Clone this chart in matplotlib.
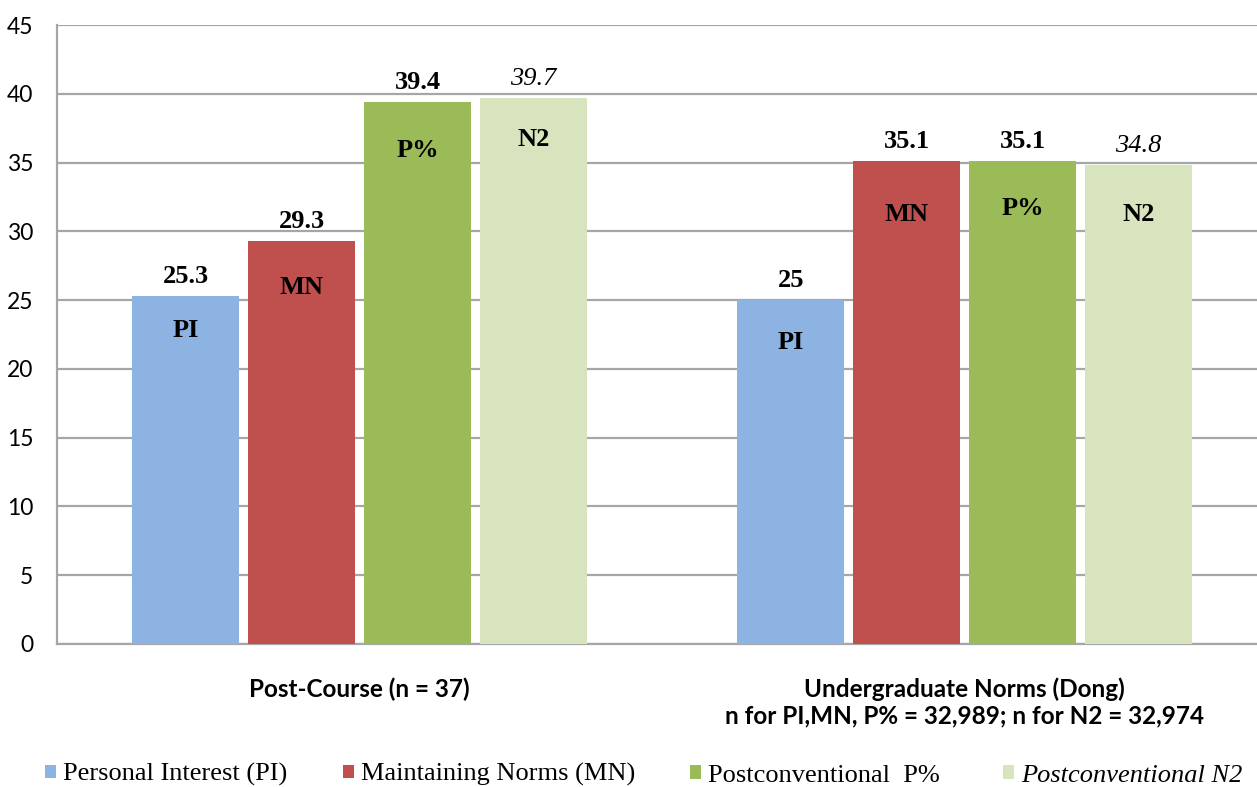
import matplotlib
matplotlib.use("Agg")
import matplotlib.pyplot as plt
from matplotlib.patches import Patch
import numpy as np

# Data
groups = ["Post-Course (n = 37)",
          "Undergraduate Norms (Dong)\nn for PI,MN, P% = 32,989; n for N2 = 32,974"]
series_names = ["Personal Interest (PI)", "Maintaining Norms (MN)",
                "Postconventional  P%", "Postconventional N2"]
short_names = ["PI", "MN", "P%", "N2"]
pi_values = [25.3, 25.0]
mn_values = [29.3, 35.1]
p_values = [39.4, 35.1]
n2_values = [39.7, 34.8]
value_text = [["25.3", "25"], ["29.3", "35.1"], ["39.4", "35.1"], ["39.7", "34.8"]]
y_ticks = [0, 5, 10, 15, 20, 25, 30, 35, 40, 45]

# Styling
colors = ["#8db3e2", "#c0504d", "#9bbb59", "#d7e4bd"]
inner_offsets_px = [[35, 42], [47, 53], [48, 47], [42, 49]]  # text centre below bar top
serif = "Liberation Serif"
sans = "Lato"

fig = plt.figure(figsize=(12.57, 7.87), dpi=100)
ax = fig.add_axes([57 / 1257, 1 - 644 / 787, 1200 / 1257, (644 - 25) / 787])

x = np.arange(len(groups))
step = 0.1915
width = 0.177
all_series = [pi_values, mn_values, p_values, n2_values]

for i, vals in enumerate(all_series):
    xs = x + (i - 1.5) * step
    ax.bar(xs, vals, width=width, color=colors[i], zorder=3, linewidth=0)
    for j, (bx, v) in enumerate(zip(xs, vals)):
        italic = (i == 3)
        ax.annotate(value_text[i][j], (bx, v), xytext=(0, 9.5), textcoords="offset points",
                    ha="center", va="baseline", fontsize=19, family=serif,
                    fontweight="normal" if italic else "bold",
                    fontstyle="italic" if italic else "normal", color="black", zorder=5)
        ax.annotate(short_names[i], (bx, v), xytext=(0, -inner_offsets_px[i][j] * 0.72),
                    textcoords="offset points", ha="center", va="center",
                    fontsize=19, family=serif, fontweight="bold", color="black", zorder=5)

ax.set_ylim(0, 45)
ax.set_xlim(-0.5, 1.5 - 0.017)
ax.set_yticks(y_ticks)
ax.set_yticklabels([str(t) for t in y_ticks], family=sans, fontsize=16.5)
ax.set_xticks(x)
ax.set_xticklabels(groups, family=sans, fontsize=17.5, fontweight="bold", linespacing=1.2)
ax.tick_params(axis="y", length=0, pad=17)
ax.tick_params(axis="x", length=0, pad=24)

ax.grid(axis="y", color="#a6a6a6", linewidth=1.6, zorder=0)
ax.set_axisbelow(True)
for s in ["top", "right"]:
    ax.spines[s].set_visible(False)
for s in ["left", "bottom"]:
    ax.spines[s].set_color("#a6a6a6")
    ax.spines[s].set_linewidth(1.6)

# Legend entries placed individually along the bottom
legend_x = [45, 343, 690, 1003]
for i in range(4):
    h = Patch(facecolor=colors[i], edgecolor="none")
    fig.legend([h], [series_names[i]], loc="lower left",
               bbox_to_anchor=(legend_x[i] / 1257, 0.5 / 787),
               frameon=False, handlelength=0.4, handleheight=0.4,
               handletextpad=0.27, borderpad=0, borderaxespad=0,
               prop={"family": serif, "size": 19,
                     "style": "italic" if i == 3 else "normal"})

fig.savefig("out.png", dpi=100)
